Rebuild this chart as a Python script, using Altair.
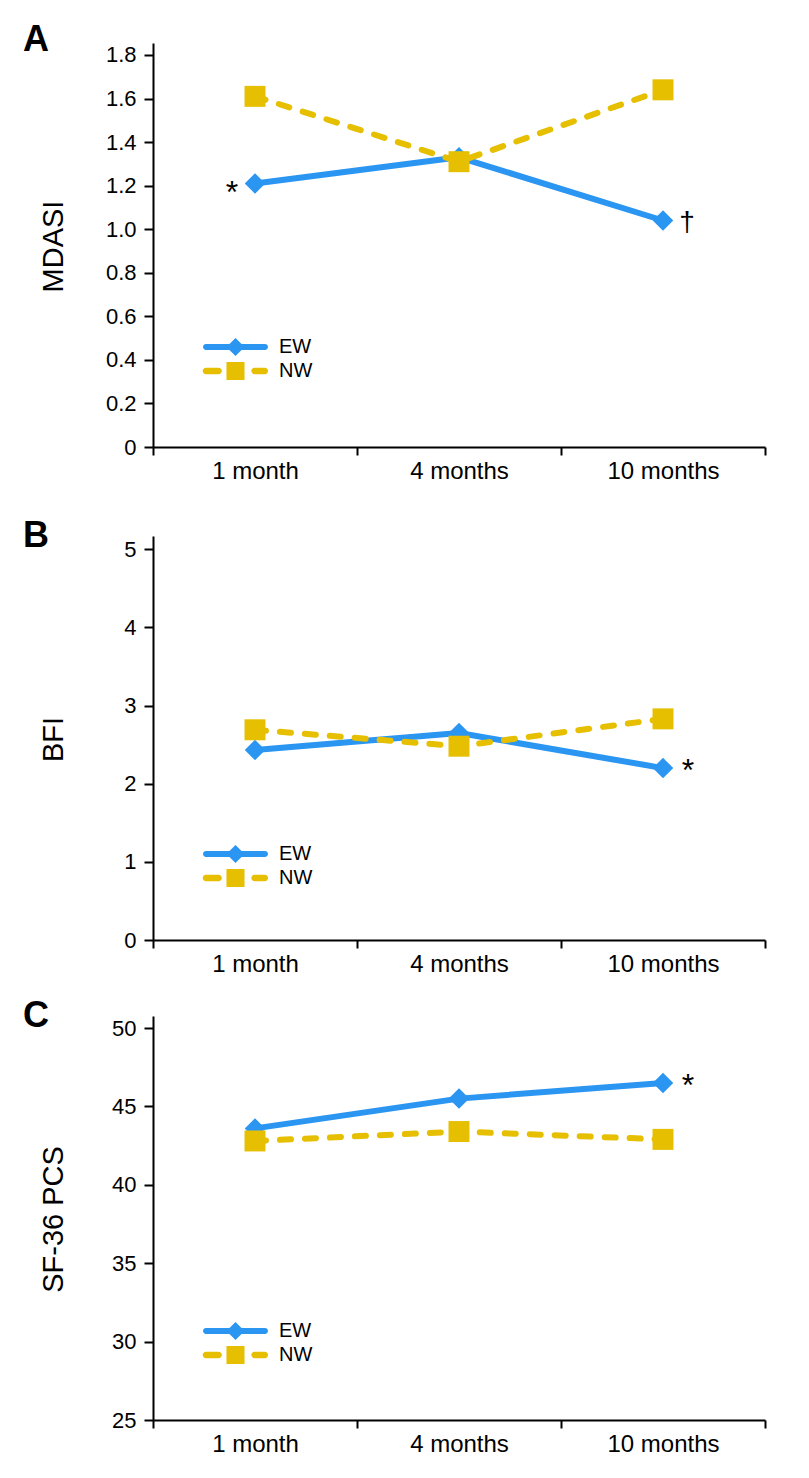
import altair as alt
import pandas as pd

# ---------------- data ----------------
categories = ["1 month", "4 months", "10 months"]
series_names = ["EW", "NW"]

mdasi_ew = [1.21, 1.33, 1.04]
mdasi_nw = [1.61, 1.31, 1.64]
bfi_ew = [2.43, 2.65, 2.20]
bfi_nw = [2.69, 2.48, 2.83]
pcs_ew = [43.6, 45.5, 46.5]
pcs_nw = [42.8, 43.4, 42.9]

mdasi_ticks = [0, 0.2, 0.4, 0.6, 0.8, 1.0, 1.2, 1.4, 1.6, 1.8]
bfi_ticks = [0, 1, 2, 3, 4, 5]
pcs_ticks = [25, 30, 35, 40, 45, 50]

# significance notes: (time point, series, symbol, side)
mdasi_notes = [("1 month", "EW", "*", "left"), ("10 months", "EW", "\u2020", "right")]
bfi_notes = [("10 months", "EW", "*", "right")]
pcs_notes = [("10 months", "EW", "*", "right")]

# ---------------- style ----------------
BLUE = "#2B95F2"
YELLOW = "#E6BF00"
FONT = "Liberation Sans"

EW_PATH = ("M-2.68,-0.27L2.68,-0.27A0.27,0.27 0 0 1 2.68,0.27L-2.68,0.27"
           "A0.27,0.27 0 0 1 -2.68,-0.27Z M0,-0.82L0.82,0L0,0.82L-0.82,0Z")
NW_PATH = ("M-2.68,-0.3L-1.54,-0.3A0.3,0.3 0 0 1 -1.54,0.3L-2.68,0.3"
           "A0.3,0.3 0 0 1 -2.68,-0.3Z "
           "M-0.82,-0.82L0.82,-0.82L0.82,0.82L-0.82,0.82Z "
           "M1.74,-0.3L2.66,-0.3A0.3,0.3 0 0 1 2.66,0.3L1.74,0.3"
           "A0.3,0.3 0 0 1 1.74,-0.3Z")

W = 612
H = 404


def panel(letter, ytitle, ew, nw, ticks, ydomain, label_expr, notes,
          legend_y, title_dy, extra_bottom):
    df = pd.DataFrame({
        "time": categories * 2,
        "series": ["EW"] * 3 + ["NW"] * 3,
        "value": ew + nw,
    })
    vals = {"EW": ew, "NW": nw}
    ndf = pd.DataFrame({
        "time": [n[0] for n in notes],
        "value": [vals[n[1]][categories.index(n[0])] for n in notes],
        "symbol": [n[2] for n in notes],
        "side": [n[3] for n in notes],
    })

    xaxis_kw = dict(
        labelAngle=0, labelFont=FONT, labelFontSize=24, labelColor="black",
        labelPadding=4, tickSize=8, tickWidth=2, tickColor="black",
        domainColor="black", domainWidth=2, tickBand="extent", grid=False,
    )
    if extra_bottom:
        xaxis_kw.update(title=" ", titleFontSize=extra_bottom, titlePadding=0)
    else:
        xaxis_kw.update(title=None)

    x = alt.X("time:N", sort=categories,
              scale=alt.Scale(domain=categories, paddingInner=0, paddingOuter=0),
              axis=alt.Axis(**xaxis_kw))
    y = alt.Y("value:Q",
              scale=alt.Scale(domain=ydomain, nice=False, zero=False),
              axis=alt.Axis(values=ticks, labelExpr=label_expr, title=ytitle,
                            titleFont=FONT, titleFontSize=29, titleFontWeight="normal",
                            titleColor="black", titleX=-85, titleY=203,
                            labelFont=FONT, labelFontSize=22, labelColor="black",
                            labelPadding=8, tickSize=9, tickWidth=2, tickColor="black",
                            domainColor="black", domainWidth=2, grid=False))

    base = alt.Chart(df).encode(x=x, y=y)
    ew_line = base.transform_filter("datum.series == 'EW'").mark_line(
        color=BLUE, strokeWidth=6, strokeJoin="round")
    ew_pts = base.transform_filter("datum.series == 'EW'").mark_point(
        shape="diamond", filled=True, size=420, color=BLUE, opacity=1)
    nw_line = base.transform_filter("datum.series == 'NW'").mark_line(
        color=YELLOW, strokeWidth=6, strokeDash=[11, 14], strokeCap="round")
    nw_pts = base.transform_filter("datum.series == 'NW'").mark_point(
        shape="square", filled=True, size=440, color=YELLOW, opacity=1)

    leg = alt.Legend(orient="none", legendX=71.5, legendY=legend_y, title=None,
                     symbolSize=484, symbolStrokeWidth=0, symbolOpacity=1,
                     labelFont=FONT, labelFontSize=20, labelColor="black",
                     labelOffset=32.5, rowPadding=3, padding=0)
    legend_layer = base.mark_point(filled=True, opacity=0, size=10).encode(
        color=alt.Color("series:N",
                        scale=alt.Scale(domain=series_names, range=[BLUE, YELLOW]),
                        legend=leg),
        shape=alt.Shape("series:N",
                        scale=alt.Scale(domain=series_names, range=[EW_PATH, NW_PATH]),
                        legend=leg),
    )

    nbase = alt.Chart(ndf).encode(x=x, y=y, text="symbol:N")
    left_star = nbase.transform_filter(
        "datum.side == 'left' && datum.symbol == '*'").mark_text(
        dx=-23, dy=20, fontSize=32, font=FONT, color="black", align="center",
        baseline="alphabetic")
    right_star = nbase.transform_filter(
        "datum.side == 'right' && datum.symbol == '*'").mark_text(
        dx=25, dy=13, fontSize=32, font=FONT, color="black", align="center",
        baseline="alphabetic")
    right_dagger = nbase.transform_filter(
        "datum.side == 'right' && datum.symbol != '*'").mark_text(
        dx=24, dy=11, fontSize=28, font=FONT, color="black", align="center",
        baseline="alphabetic")

    layers = [ew_line, ew_pts, nw_line, nw_pts, legend_layer]
    if any(n[3] == "left" for n in notes):
        layers.append(left_star)
    if any(n[3] == "right" and n[2] == "*" for n in notes):
        layers.append(right_star)
    if any(n[2] != "*" for n in notes):
        layers.append(right_dagger)

    return alt.layer(*layers).properties(
        width=W, height=H,
        title=alt.TitleParams(letter, anchor="start", frame="group", font=FONT,
                              fontSize=36, fontWeight="bold", color="black",
                              dx=-130, dy=title_dy, offset=-36, baseline="alphabetic"),
    )


pa = panel("A", "MDASI", mdasi_ew, mdasi_nw, mdasi_ticks, [0, 1.855],
           "datum.value == 0 ? '0' : format(datum.value, '.1f')",
           mdasi_notes, 293, 8, 13)
pb = panel("B", "BFI", bfi_ew, bfi_nw, bfi_ticks, [0, 5.17],
           "format(datum.value, 'd')", bfi_notes, 307, 11, 0)
pc = panel("C", "SF-36 PCS", pcs_ew, pcs_nw, pcs_ticks, [25, 50.77],
           "format(datum.value, 'd')", pcs_notes, 304, 11, 0)

chart = alt.vconcat(pa, pb, pc, spacing=22).properties(
    padding={"left": 15, "top": 14, "right": 5, "bottom": 5},
    background="white",
).configure_view(stroke=None).resolve_scale(color="independent", shape="independent")

chart.save("out.html", embed_options={"renderer": "svg", "actions": False})
